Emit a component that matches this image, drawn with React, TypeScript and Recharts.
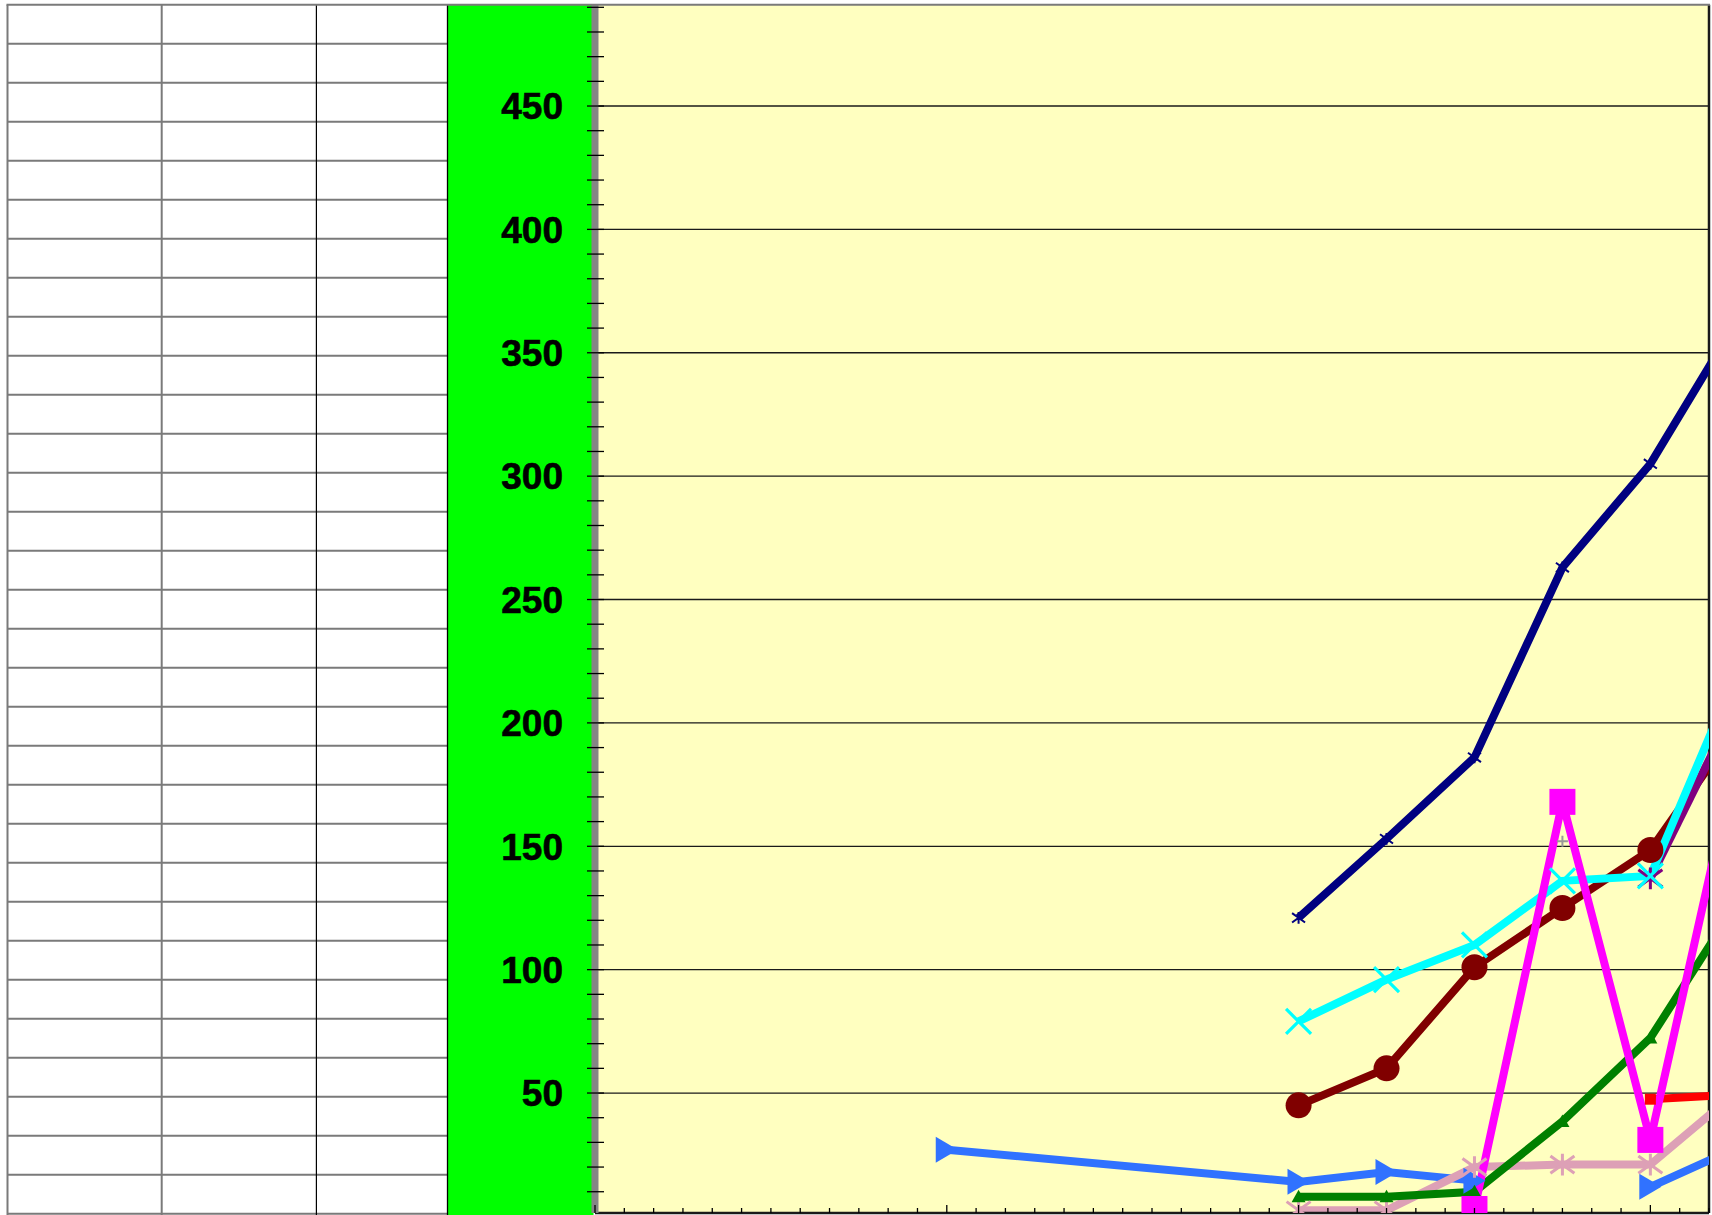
import React from 'react';
import { LineChart, Line, XAxis, YAxis, CartesianGrid, ReferenceLine } from 'recharts';

// x positions in months (quarterly points, yearly major ticks)
const months = [12, 24, 27, 30, 33, 36, 39];

const navySeries = [null, 121, 153, 186, 263, 305, 364];
const cyanSeries = [null, 79, 96, 110, 136, 138, 222];
const maroonSeries = [null, 45, 60, 101, 125, 148.5, 199];
const magentaSeries = [null, null, null, 3, 168, 31, 190];
const greenSeries = [null, 8, 8, 10, 38.5, 72.3, 128];
const pinkSeries = [null, 2.5, 2.5, 20, 21, 21, 51];
const blueSeries = [27, 14, 18, 14.5, null, 12, 28];
const redSeries = [null, null, null, null, null, 47.5, 49.5];
const purpleSeries = [null, null, null, null, null, 137, 209];
const graySeries = [null, null, null, null, 152, null, null];

const yLabels = [50, 100, 150, 200, 250, 300, 350, 400, 450];
const yTicks = Array.from({ length: 49 }, (_, i) => (i + 1) * 10);
const xTicks = Array.from({ length: 39 }, (_, i) => i);
const xMajor = [0, 12, 24, 36];

const Y_MIN = 1.38;
const Y_MAX = 491.06;

const rows = months.map((m, i) => ({
  m,
  navy: navySeries[i],
  cyan: cyanSeries[i],
  maroon: maroonSeries[i],
  magenta: magentaSeries[i],
  green: greenSeries[i],
  pink: pinkSeries[i],
  blue: blueSeries[i],
  red: redSeries[i],
  purple: purpleSeries[i],
  gray: graySeries[i],
}));

const makeDot = (shape: string, color: string, s: number, sw: number) => (p: any) => {
  const { cx, cy, value, index } = p;
  const key = `d-${shape}-${color}-${index}`;
  if (value == null || cx == null || cy == null || isNaN(cx) || isNaN(cy)) return <g key={key} />;
  switch (shape) {
    case 'circle':
      return <circle key={key} cx={cx} cy={cy} r={s} fill={color} />;
    case 'square':
      return <rect key={key} x={cx - s} y={cy - s} width={2 * s} height={2 * s} fill={color} />;
    case 'x':
      return (
        <path key={key} d={`M${cx - s},${cy - s}L${cx + s},${cy + s}M${cx - s},${cy + s}L${cx + s},${cy - s}`} stroke={color} strokeWidth={sw} fill="none" />
      );
    case 'star':
      return (
        <path key={key}
          d={`M${cx - s},${cy - s * 0.72}L${cx + s},${cy + s * 0.72}M${cx - s},${cy + s * 0.72}L${cx + s},${cy - s * 0.72}M${cx},${cy - s * 0.9}L${cx},${cy + s * 0.9}`}
          stroke={color} strokeWidth={sw} fill="none" />
      );
    case 'plus':
      return <path key={key} d={`M${cx - s},${cy}L${cx + s},${cy}M${cx},${cy - s}L${cx},${cy + s}`} stroke={color} strokeWidth={sw} fill="none" />;
    case 'triR':
      return <polygon key={key} points={`${cx - s * 0.85},${cy - s} ${cx + s * 0.85},${cy} ${cx - s * 0.85},${cy + s}`} fill={color} />;
    case 'triU':
      return <polygon key={key} points={`${cx},${cy - s} ${cx + s},${cy + s * 0.8} ${cx - s},${cy + s * 0.8}`} fill={color} />;
    default:
      return <g key={key} />;
  }
};

const YTick = (props: any) => {
  const { x, y, payload } = props;
  const v = payload.value;
  return (
    <g>
      <line x1={x - 8} x2={x + 9} y1={y} y2={y} stroke="#000" strokeWidth={1.3} />
      {yLabels.includes(v) && (
        <text x={x - 32} y={y} dy="0.36em" textAnchor="end" fontFamily="'Liberation Sans', Arial, sans-serif" fontWeight="bold" fontSize={37} fill="#000" stroke="#000" strokeWidth={0.6}>
          {v}
        </text>
      )}
    </g>
  );
};

const XTick = (props: any) => {
  const { x, y, payload } = props;
  const h = xMajor.includes(payload.value) ? 8 : 5;
  return <line x1={x} x2={x} y1={y} y2={y - h} stroke="#000" strokeWidth={1.3} />;
};

const ROW_TOP = 4.7;
const ROW_H = 39;
const rowLines = Array.from({ length: 31 }, (_, i) => ROW_TOP + ROW_H * (i + 1));

const SW = 8;

export default function App() {
  return (
    <div style={{ position: 'absolute', left: 0, top: 0, width: 1712, height: 1215, background: '#fff', overflow: 'hidden' }}>
      <svg width={1712} height={1215} style={{ position: 'absolute', left: 0, top: 0 }}>
        <rect x={7} y={ROW_TOP} width={440.5} height={1215} fill="#fff" />
        <rect x={447.5} y={ROW_TOP} width={146} height={1215} fill="#00FF00" />
        {rowLines.map((y, i) => (
          <line key={i} x1={7} x2={447.5} y1={y} y2={y} stroke="#7a7a7a" strokeWidth={2} />
        ))}
        <line x1={7.5} x2={7.5} y1={ROW_TOP} y2={1215} stroke="#7a7a7a" strokeWidth={2} />
        <line x1={161.7} x2={161.7} y1={ROW_TOP} y2={1215} stroke="#7a7a7a" strokeWidth={2} />
        <line x1={316.4} x2={316.4} y1={ROW_TOP} y2={1215} stroke="#000" strokeWidth={1.2} />
        <line x1={447.5} x2={447.5} y1={ROW_TOP} y2={1215} stroke="#000" strokeWidth={1.3} />
      </svg>
      <div style={{ position: 'absolute', left: 0, top: 0 }}>
        <LineChart width={1712} height={1215} data={rows} margin={{ top: ROW_TOP, right: 3, bottom: 0, left: 0 }}>
          <CartesianGrid vertical={false} horizontalValues={yLabels} stroke="#1a1a1a" strokeWidth={1.3} fill="#FFFFC0" fillOpacity={1} />
          <XAxis
            type="number"
            dataKey="m"
            domain={[0, 38]}
            ticks={xTicks}
            interval={0}
            allowDataOverflow
            height={2}
            tickSize={0}
            tickMargin={0}
            tickLine={false}
            axisLine={{ stroke: '#1a1a1a', strokeWidth: 2.5 }}
            tick={<XTick />}
          />
          <YAxis
            type="number"
            domain={[Y_MIN, Y_MAX]}
            ticks={yTicks}
            interval={0}
            allowDataOverflow
            width={595}
            tickSize={0}
            tickMargin={0}
            tickLine={false}
            axisLine={{ stroke: '#858585', strokeWidth: 7 }}
            tick={<YTick />}
          />
          <ReferenceLine x={38} stroke="#1a1a1a" strokeWidth={2.5} />
          <Line dataKey="blue" stroke="#3072FF" strokeWidth={SW} dot={makeDot('triR', '#3072FF', 13, 0)} activeDot={false} isAnimationActive={false} />
          <Line dataKey="pink" stroke="#DDA0B6" strokeWidth={SW} dot={makeDot('star', '#DDA0B6', 12, 3)} activeDot={false} isAnimationActive={false} />
          <Line dataKey="green" stroke="#008000" strokeWidth={SW} dot={makeDot('triU', '#008000', 7, 0)} activeDot={false} isAnimationActive={false} />
          <Line dataKey="red" stroke="#FF0000" strokeWidth={SW} dot={makeDot('square', '#FF0000', 5.5, 0)} activeDot={false} isAnimationActive={false} />
          <Line dataKey="maroon" stroke="#800000" strokeWidth={SW} dot={makeDot('circle', '#800000', 13, 0)} activeDot={false} isAnimationActive={false} />
          <Line dataKey="navy" stroke="#000080" strokeWidth={SW} dot={makeDot('star', '#000080', 6.5, 2)} activeDot={false} isAnimationActive={false} />
          <Line dataKey="purple" stroke="#800080" strokeWidth={SW} dot={makeDot('star', '#800080', 12, 3)} activeDot={false} isAnimationActive={false} />
          <Line dataKey="cyan" stroke="#00FFFF" strokeWidth={SW} dot={makeDot('x', '#00FFFF', 12.5, 3.2)} activeDot={false} isAnimationActive={false} />
          <Line dataKey="gray" stroke="#999999" strokeWidth={SW} dot={makeDot('plus', '#999999', 5.5, 2)} activeDot={false} isAnimationActive={false} />
          <Line dataKey="magenta" stroke="#FF00FF" strokeWidth={SW} dot={makeDot('square', '#FF00FF', 13, 0)} activeDot={false} isAnimationActive={false} />
          <ReferenceLine x={0} stroke="#000" strokeWidth={1.3} />
        </LineChart>
      </div>
      <svg width={1712} height={1215} style={{ position: 'absolute', left: 0, top: 0, pointerEvents: 'none' }}>
        <line x1={6.5} x2={1710} y1={ROW_TOP} y2={ROW_TOP} stroke="#7a7a7a" strokeWidth={2} />
      </svg>
    </div>
  );
}
